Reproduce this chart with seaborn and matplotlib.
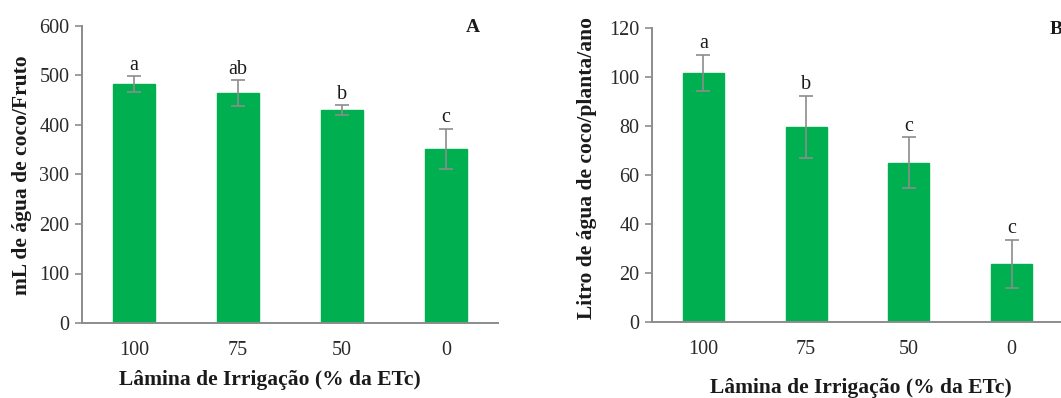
import matplotlib
matplotlib.use("Agg")
import matplotlib.pyplot as plt
import seaborn as sns
import pandas as pd

sns.set_theme(style="white")
plt.rcParams['font.family'] = ['Liberation Serif', 'DejaVu Serif']

categories = ["100", "75", "50", "0"]
values_a = [483, 464, 430, 352]
errors_a = [16, 26, 10, 40]
letters_a = ["a", "ab", "b", "c"]
values_b = [101.5, 79.5, 65, 23.8]
errors_b = [7.5, 12.8, 10.3, 9.8]
letters_b = ["a", "b", "c", "c"]

xlabel = "Lâmina de Irrigação (% da ETc)"
ylabel_a = "mL de água de coco/Fruto"
ylabel_b = "Litro de água de coco/planta/ano"

W, H = 1061, 398
fig = plt.figure(figsize=(W / 100, H / 100), dpi=100)

def px_axes(l, t, r, b):
    return fig.add_axes([l / W, 1 - b / H, (r - l) / W, (b - t) / H])

ax_a = px_axes(82, 26, 498, 323)
ax_b = px_axes(652, 27.7, 1063, 322)

green = "#00B050"
grey = "#8C8C8C"
txt = "#1a1a1a"

def draw(ax, vals, errs, letters, ylim, yticks, ylabel, fmt, letter_pad):
    df = pd.DataFrame({"cat": categories, "val": vals})
    sns.barplot(data=df, x="cat", y="val", order=categories, color=green,
                saturation=1, width=0.4, ax=ax, errorbar=None, edgecolor=green)
    xs = list(range(len(categories)))
    ax.errorbar(xs, vals, yerr=errs, fmt="none", ecolor=grey, elinewidth=1.2,
                capsize=5, capthick=1.2, zorder=5)
    for x, v, e, t in zip(xs, vals, errs, letters):
        ax.text(x, v + e + letter_pad, t, ha="center", va="bottom",
                fontsize=14.5, color=txt)
    ax.set_xlim(-0.5, 3.5)
    ax.set_ylim(*ylim)
    ax.set_yticks(yticks)
    ax.set_yticklabels([fmt.format(v) for v in yticks], fontsize=14.5, color="#2a2a2a")
    ax.set_xticks(xs)
    ax.set_xticklabels(categories, fontsize=14.5, color="#2a2a2a")
    ax.set_xticks([-0.5, 0.5, 1.5, 2.5, 3.5], minor=True)
    ax.tick_params(axis="x", which="major", length=0, pad=13)
    ax.tick_params(axis="x", which="minor", length=5, width=1.2, color=grey, direction="out")
    ax.tick_params(axis="y", length=5, width=1.2, color=grey, direction="out", left=True, pad=4)
    for s in ["top", "right"]:
        ax.spines[s].set_visible(False)
    for s in ["left", "bottom"]:
        ax.spines[s].set_color(grey)
        ax.spines[s].set_linewidth(1.4)
    ax.set_xlabel(xlabel, fontsize=15.5, fontweight="bold", color=txt)
    ax.set_ylabel(ylabel, fontsize=15.5, fontweight="bold", color=txt)
    ax.grid(False)
    ax.set_facecolor("white")

draw(ax_a, values_a, errors_a, letters_a, (0, 600), [0, 100, 200, 300, 400, 500, 600],
     ylabel_a, "{:.0f}", 3)
draw(ax_b, values_b, errors_b, letters_b, (0, 120), [0, 20, 40, 60, 80, 100, 120],
     ylabel_b, "{:.0f}", 0.6)

ax_a.xaxis.set_label_coords((270 - 82) / (498 - 82), -(380 - 323) / (323 - 26))
ax_a.xaxis.label.set_va("center")
ax_a.yaxis.set_label_coords(-(82 - 22) / (498 - 82), (323 - 175) / (323 - 26))
ax_a.yaxis.label.set_va("center")
ax_b.xaxis.set_label_coords((861 - 652) / (1063 - 652), -(388 - 322) / (322 - 27.7))
ax_b.xaxis.label.set_va("center")
ax_b.yaxis.set_label_coords(-(652 - 587) / (1063 - 652), (322 - 168) / (322 - 27.7))
ax_b.yaxis.label.set_va("center")

fig.text(473 / W, 1 - 28 / H, "A", ha="center", va="center", fontsize=14, fontweight="bold", color=txt)
fig.text(1056 / W, 1 - 30 / H, "B", ha="center", va="center", fontsize=14, fontweight="bold", color=txt)

fig.savefig("out.png", dpi=100, facecolor="white")
